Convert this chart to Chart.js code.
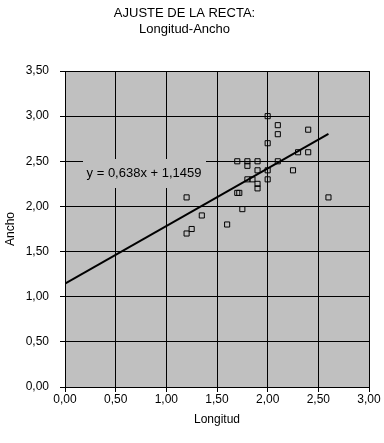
<!DOCTYPE html>
<html>
<head>
<meta charset="utf-8">
<script src="https://cdn.jsdelivr.net/npm/chart.js@4.4.1/dist/chart.umd.min.js"></script>
<style>
  html, body { margin: 0; padding: 0; background: #ffffff; }
  #wrap { width: 384px; height: 443px; }
</style>
</head>
<body>
<div id="wrap"><canvas id="c" width="384" height="443"></canvas></div>
<script>
// ---- Data ----
const longitud = [2.0, 2.1, 2.1, 2.4, 2.0, 1.7, 1.8, 1.9, 1.8, 2.1, 2.3, 2.4, 1.9, 2.0, 2.25,
                  1.8, 1.85, 1.9, 1.9, 2.0, 1.7, 1.72, 1.2, 2.6, 1.75, 1.35, 1.6, 1.25, 1.2];
const ancho    = [3.0, 2.9, 2.8, 2.85, 2.7, 2.5, 2.5, 2.5, 2.45, 2.5, 2.6, 2.6, 2.4, 2.4, 2.4,
                  2.3, 2.3, 2.25, 2.2, 2.3, 2.15, 2.15, 2.1, 2.1, 1.97, 1.9, 1.8, 1.75, 1.7];
const trendX = [0, 2.6];
const trendY = [1.1459, 2.8047];
const equationText = 'y = 0,638x + 1,1459';
const equationPos = [0.78, 2.37];
const titleLines = ['AJUSTE DE LA RECTA:', 'Longitud-Ancho'];
const xTitle = 'Longitud';
const yTitle = 'Ancho';
const xTickLabels = ['0,00', '0,50', '1,00', '1,50', '2,00', '2,50', '3,00'];
const yTickLabels = ['0,00', '0,50', '1,00', '1,50', '2,00', '2,50', '3,00', '3,50'];

const FONT = 'Liberation Sans, Arial, sans-serif';
const PLOT_BG = '#c0c0c0';

const plotBg = {
  id: 'plotBg',
  beforeDraw(chart) {
    const {ctx, chartArea: a} = chart;
    ctx.save();
    ctx.fillStyle = PLOT_BG;
    ctx.fillRect(a.left, a.top, a.right - a.left, a.bottom - a.top);
    ctx.restore();
  }
};

const eqLabel = {
  id: 'eqLabel',
  afterDatasetsDraw(chart) {
    const {ctx, scales} = chart;
    const cx = scales.x.getPixelForValue(equationPos[0]);
    const cy = scales.y.getPixelForValue(equationPos[1]);
    ctx.save();
    ctx.font = '13px ' + FONT;
    const w = ctx.measureText(equationText).width;
    ctx.fillStyle = PLOT_BG;
    ctx.fillRect(Math.round(cx - w / 2 - 4), Math.round(cy - 14), Math.round(w + 8), 29);
    ctx.fillStyle = '#000000';
    ctx.textAlign = 'center';
    ctx.textBaseline = 'middle';
    ctx.fillText(equationText, cx, cy);
    ctx.restore();
  }
};

const points = longitud.map((x, i) => ({x: x, y: ancho[i]}));
const trend = trendX.map((x, i) => ({x: x, y: trendY[i]}));

new Chart(document.getElementById('c'), {
  type: 'scatter',
  data: {
    datasets: [
      {
        label: 'Ancho',
        data: points,
        pointStyle: 'rect',
        pointRadius: 3.6,
        pointHoverRadius: 3.6,
        pointBorderWidth: 1,
        borderColor: '#000000',
        backgroundColor: 'rgba(0,0,0,0)',
        showLine: false
      },
      {
        label: 'Tendencia',
        data: trend,
        showLine: true,
        borderColor: '#000000',
        borderWidth: 2,
        pointRadius: 0,
        pointHoverRadius: 0,
        fill: false
      }
    ]
  },
  options: {
    responsive: false,
    animation: false,
    devicePixelRatio: 1,
    layout: { padding: { left: 0, right: 15, top: 0, bottom: 0 } },
    plugins: {
      legend: { display: false },
      tooltip: { enabled: false },
      title: {
        display: true,
        text: titleLines,
        color: '#000000',
        font: { family: FONT, size: 13, weight: 'normal', lineHeight: 1.3 },
        padding: { top: 4.5, bottom: 32.7 }
      }
    },
    scales: {
      x: {
        type: 'linear',
        min: 0, max: 3, 
        afterBuildTicks(s) { s.ticks = xTickLabels.map((t, i) => ({value: i * 0.5})); },
        afterFit(s) { s.height = 56; },
        ticks: {
          color: '#000000',
          font: { family: FONT, size: 12 },
          padding: 0,
          maxRotation: 0,
          autoSkip: false,
          callback: (v, i) => xTickLabels[i]
        },
        grid: { color: '#000000', lineWidth: 1, tickLength: 5, drawTicks: true },
        border: { display: true, color: '#000000', width: 1 },
        title: {
          display: true, text: xTitle, color: '#000000',
          font: { family: FONT, size: 12 },
          padding: { top: 0, bottom: 15.8 }
        }
      },
      y: {
        type: 'linear',
        min: 0, max: 3.5,
        afterBuildTicks(s) { s.ticks = yTickLabels.map((t, i) => ({value: i * 0.5})); },
        afterFit(s) { s.width = 65; },
        ticks: {
          color: '#000000',
          font: { family: FONT, size: 12 },
          padding: 11,
          autoSkip: false,
          callback: (v, i) => yTickLabels[i]
        },
        grid: { color: '#000000', lineWidth: 1, tickLength: 5, drawTicks: true },
        border: { display: true, color: '#000000', width: 1 },
        title: {
          display: true, text: yTitle, color: '#000000',
          font: { family: FONT, size: 12 },
          padding: { top: 3, bottom: 0 }
        }
      }
    }
  },
  plugins: [plotBg, eqLabel]
});
</script>
</body>
</html>
